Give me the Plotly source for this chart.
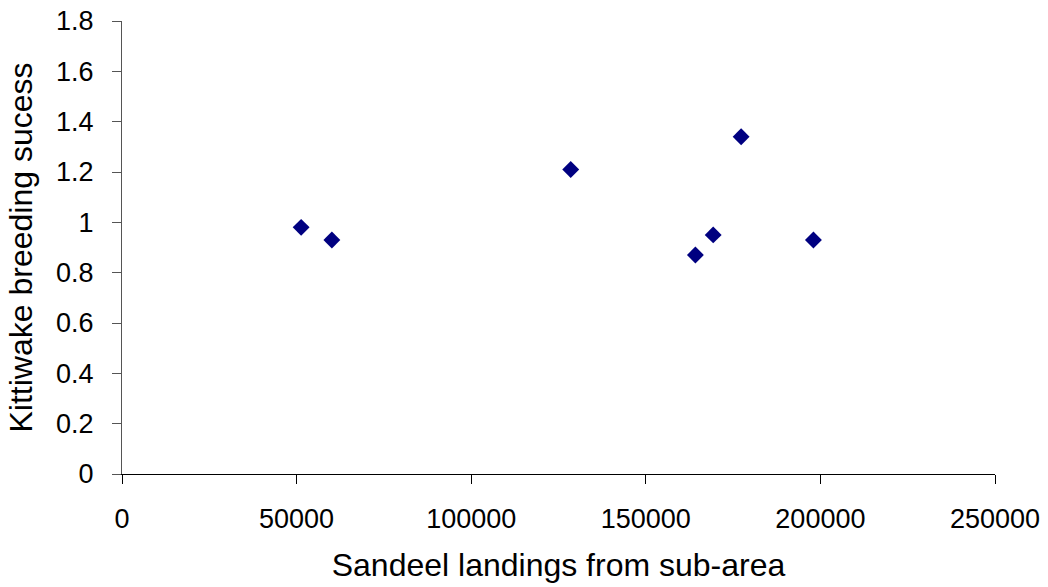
import plotly.graph_objects as go

# Sandeel landings (tonnes) vs kittiwake breeding success
landings = [51300, 60100, 128500, 164200, 169300, 177300, 198000]
breeding_success = [0.98, 0.93, 1.21, 0.87, 0.95, 1.34, 0.93]

x_ticks = [0, 50000, 100000, 150000, 200000, 250000]
y_ticks = [0, 0.2, 0.4, 0.6, 0.8, 1, 1.2, 1.4, 1.6, 1.8]
y_tick_text = ["0", "0.2", "0.4", "0.6", "0.8", "1", "1.2", "1.4", "1.6", "1.8"]

font_family = "Arial"

fig = go.Figure(
    go.Scatter(
        x=landings,
        y=breeding_success,
        mode="markers",
        marker=dict(symbol="diamond", size=13, color="#000080", line=dict(width=0)),
        showlegend=False,
    )
)

fig.update_layout(
    width=1048,
    height=587,
    margin=dict(l=122, r=53, t=21, b=113, autoexpand=False),
    paper_bgcolor="white",
    plot_bgcolor="white",
    font=dict(family=font_family, size=27, color="black"),
)

fig.update_xaxes(
    range=[0, 250000],
    tickvals=x_ticks,
    ticktext=[str(v) for v in x_ticks],
    ticks="outside",
    ticklen=9,
    tickcolor="#000000",
    tickwidth=1,
    showline=True,
    linecolor="#000000",
    linewidth=1,
    showgrid=False,
    zeroline=False,
    automargin=False,
    ticklabelstandoff=12,
    title=dict(text="Sandeel landings from sub-area", standoff=20),
)

fig.update_yaxes(
    range=[0, 1.8],
    tickvals=y_ticks,
    ticktext=y_tick_text,
    ticks="outside",
    ticklen=9,
    tickcolor="#555555",
    tickwidth=1,
    showline=True,
    linecolor="#555555",
    linewidth=1,
    showgrid=False,
    zeroline=False,
    automargin=False,
    ticklabelstandoff=13,
    title=dict(text="Kittiwake breeding sucess", standoff=13),
)

fig.write_html("out.html")
